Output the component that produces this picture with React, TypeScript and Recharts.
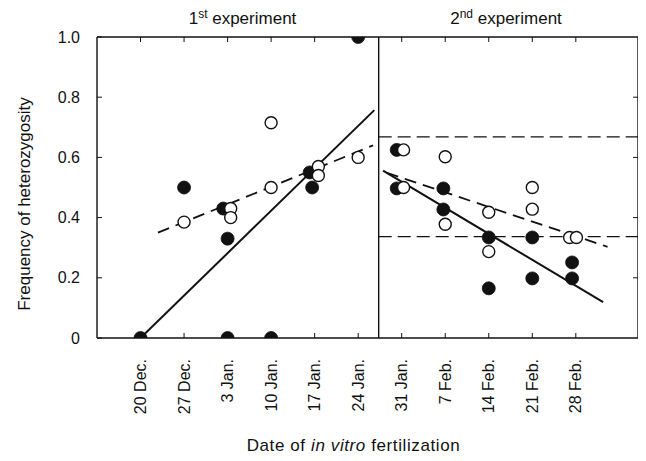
import React from "react";
import {
  ComposedChart,
  XAxis,
  YAxis,
  Line,
  Scatter,
  ReferenceLine,
} from "recharts";

// ---- data (days counted from 20 Dec.) ----
const tickDays = [0, 7, 14, 21, 28, 35, 42, 49, 56, 63, 70];
const dateLabels = [
  "20 Dec.",
  "27 Dec.",
  "3 Jan.",
  "10 Jan.",
  "17 Jan.",
  "24 Jan.",
  "31 Jan.",
  "7 Feb.",
  "14 Feb.",
  "21 Feb.",
  "28 Feb.",
];
const yTicks = [0, 0.2, 0.4, 0.6, 0.8, 1.0];
const innerYTicks = [0.2, 0.4, 0.6, 0.8];

const firstFilled = [
  { x: 0, y: 0 },
  { x: 7, y: 0.5 },
  { x: 13.3, y: 0.43 },
  { x: 14, y: 0.33 },
  { x: 14, y: 0 },
  { x: 21, y: 0 },
  { x: 27.2, y: 0.55 },
  { x: 27.6, y: 0.5 },
  { x: 35, y: 1.0 },
];
const firstOpen = [
  { x: 7, y: 0.385 },
  { x: 14.5, y: 0.43 },
  { x: 14.5, y: 0.4 },
  { x: 21, y: 0.715 },
  { x: 21, y: 0.5 },
  { x: 28.6, y: 0.57 },
  { x: 28.6, y: 0.54 },
  { x: 35, y: 0.6 },
];
const secondFilled = [
  { x: 41.2, y: 0.625 },
  { x: 41.2, y: 0.497 },
  { x: 48.7, y: 0.497 },
  { x: 48.7, y: 0.427 },
  { x: 56, y: 0.334 },
  { x: 56, y: 0.165 },
  { x: 63, y: 0.334 },
  { x: 63, y: 0.198 },
  { x: 69.4, y: 0.251 },
  { x: 69.4, y: 0.198 },
];
const secondOpen = [
  { x: 42.3, y: 0.625 },
  { x: 42.3, y: 0.5 },
  { x: 49, y: 0.602 },
  { x: 49, y: 0.378 },
  { x: 56, y: 0.418 },
  { x: 56, y: 0.287 },
  { x: 63, y: 0.5 },
  { x: 63, y: 0.428 },
  { x: 69, y: 0.334 },
  { x: 70.1, y: 0.334 },
];

const firstFilledFit = [
  { x: 0, y: 0 },
  { x: 37.6, y: 0.757 },
];
const firstOpenFit = [
  { x: 2.8, y: 0.35 },
  { x: 37.4, y: 0.64 },
];
const secondFilledFit = [
  { x: 39.0, y: 0.556 },
  { x: 74.4, y: 0.119 },
];
const secondOpenFit = [
  { x: 39.6, y: 0.549 },
  { x: 75.1, y: 0.303 },
];

const xDomain = [-7, 80];
const dividerDay = 38.3;
const expectedUpper = 0.668;
const expectedLower = 0.337;

const FONT = "'Liberation Sans', Arial, Helvetica, sans-serif";
const INK = "#111";

const FilledDot = (props: any) => {
  const { cx, cy } = props;
  if (cx == null || cy == null) return null;
  return <circle cx={cx} cy={cy} r={6.5} fill={INK} stroke={INK} strokeWidth={0.8} />;
};
const OpenDot = (props: any) => {
  const { cx, cy } = props;
  if (cx == null || cy == null) return null;
  return <circle cx={cx} cy={cy} r={6} fill="#fff" stroke={INK} strokeWidth={1.4} />;
};

const DateTick = (props: any) => {
  const { x, y, payload } = props;
  const idx = tickDays.indexOf(payload.value);
  const label = idx >= 0 ? dateLabels[idx] : "";
  return (
    <text
      x={x}
      y={y}
      transform={`rotate(-90 ${x} ${y})`}
      textAnchor="end"
      dy="0.35em"
      fontSize={16}
      fontFamily={FONT}
      fill={INK}
    >
      {label}
    </text>
  );
};

const NoLabel = () => <g />;

const fmtY = (v: number) => (v === 0 ? "0" : v.toFixed(1));

export default function App() {
  const W = 632;
  const H = 445;
  const tickLineStyle = { stroke: INK, strokeWidth: 1 };
  return (
    <div style={{ position: "relative", width: W, height: H, background: "#fff" }}>
      <ComposedChart
        width={W}
        height={H}
        margin={{ top: 29, right: 2, left: 0, bottom: 0 }}
        style={{ fontFamily: FONT }}
      >
        <XAxis
          xAxisId="main"
          dataKey="x"
          type="number"
          domain={xDomain}
          ticks={tickDays}
          interval={0}
          orientation="bottom"
          height={115}
          tickLine={tickLineStyle}
          tickSize={-5}
          tickMargin={26}
          axisLine={{ stroke: INK, strokeWidth: 1.4 }}
          tick={<DateTick />}
          allowDataOverflow
        />
        <XAxis
          xAxisId="top"
          dataKey="x"
          type="number"
          domain={xDomain}
          ticks={tickDays}
          interval={0}
          orientation="top"
          mirror
          height={5}
          tick={<NoLabel />}
          tickSize={5}
          tickLine={tickLineStyle}
          axisLine={{ stroke: INK, strokeWidth: 1.4 }}
          allowDataOverflow
        />
        <YAxis
          yAxisId="main"
          dataKey="y"
          type="number"
          domain={[0, 1]}
          ticks={yTicks}
          interval={0}
          width={89}
          tickLine={tickLineStyle}
          tickSize={-5}
          tickMargin={22}
          tickFormatter={fmtY}
          tick={{ fontSize: 16, fill: INK, fontFamily: FONT }}
          axisLine={{ stroke: INK, strokeWidth: 1.4 }}
          allowDataOverflow
        />
        <YAxis
          yAxisId="right"
          dataKey="y"
          type="number"
          domain={[0, 1]}
          ticks={innerYTicks}
          interval={0}
          orientation="right"
          mirror
          width={5}
          tick={<NoLabel />}
          tickSize={5}
          tickLine={tickLineStyle}
          axisLine={{ stroke: INK, strokeWidth: 1.4 }}
          allowDataOverflow
        />

        <ReferenceLine
          xAxisId="main"
          yAxisId="main"
          x={dividerDay}
          stroke={INK}
          strokeWidth={1.4}
          ifOverflow="visible"
        />
        <ReferenceLine
          xAxisId="main"
          yAxisId="main"
          segment={[
            { x: dividerDay, y: expectedUpper },
            { x: xDomain[1], y: expectedUpper },
          ]}
          stroke={INK}
          strokeWidth={1.2}
          strokeDasharray="13 6"
        />
        <ReferenceLine
          xAxisId="main"
          yAxisId="main"
          segment={[
            { x: dividerDay, y: expectedLower },
            { x: xDomain[1], y: expectedLower },
          ]}
          stroke={INK}
          strokeWidth={1.2}
          strokeDasharray="13 6"
        />

        {/* invisible series bound to the frame axes so they get ticks */}
        <Line
          xAxisId="top"
          yAxisId="right"
          data={firstFilledFit}
          dataKey="y"
          stroke="none"
          dot={false}
          activeDot={false}
          legendType="none"
          isAnimationActive={false}
        />

        <Line
          xAxisId="main"
          yAxisId="main"
          data={firstFilledFit}
          dataKey="y"
          type="linear"
          stroke={INK}
          strokeWidth={2}
          dot={false}
          activeDot={false}
          isAnimationActive={false}
        />
        <Line
          xAxisId="main"
          yAxisId="main"
          data={firstOpenFit}
          dataKey="y"
          type="linear"
          stroke={INK}
          strokeWidth={1.8}
          strokeDasharray="12 7"
          dot={false}
          activeDot={false}
          isAnimationActive={false}
        />
        <Line
          xAxisId="main"
          yAxisId="main"
          data={secondFilledFit}
          dataKey="y"
          type="linear"
          stroke={INK}
          strokeWidth={2}
          dot={false}
          activeDot={false}
          isAnimationActive={false}
        />
        <Line
          xAxisId="main"
          yAxisId="main"
          data={secondOpenFit}
          dataKey="y"
          type="linear"
          stroke={INK}
          strokeWidth={1.8}
          strokeDasharray="12 7"
          dot={false}
          activeDot={false}
          isAnimationActive={false}
        />

        <Scatter
          xAxisId="main"
          yAxisId="main"
          data={firstFilled}
          dataKey="y"
          shape={FilledDot}
          isAnimationActive={false}
        />
        <Scatter
          xAxisId="main"
          yAxisId="main"
          data={secondFilled}
          dataKey="y"
          shape={FilledDot}
          isAnimationActive={false}
        />
        <Scatter
          xAxisId="main"
          yAxisId="main"
          data={firstOpen}
          dataKey="y"
          shape={OpenDot}
          isAnimationActive={false}
        />
        <Scatter
          xAxisId="main"
          yAxisId="main"
          data={secondOpen}
          dataKey="y"
          shape={OpenDot}
          isAnimationActive={false}
        />
      </ComposedChart>

      <svg
        width={W}
        height={H + 8}
        style={{ position: "absolute", left: 0, top: 0, pointerEvents: "none", overflow: "visible" }}
        fontFamily={FONT}
        fill={INK}
      >
        <text x={234.5} y={16} textAnchor="middle" fontSize={17}>
          1
          <tspan dy={-6} fontSize={12}>
            st
          </tspan>
          <tspan dy={6}> experiment</tspan>
        </text>
        <text x={498} y={16} textAnchor="middle" fontSize={17}>
          2
          <tspan dy={-6} fontSize={12}>
            nd
          </tspan>
          <tspan dy={6}> experiment</tspan>
        </text>
        <text x={345.5} y={443} textAnchor="middle" fontSize={17} letterSpacing={0.6}>
          Date of <tspan fontStyle="italic">in vitro</tspan> fertilization
        </text>
        <text
          transform="translate(16,196) rotate(-90)"
          textAnchor="middle"
          dy="0.35em"
          fontSize={17}
        >
          Frequency of heterozygosity
        </text>
      </svg>
    </div>
  );
}
